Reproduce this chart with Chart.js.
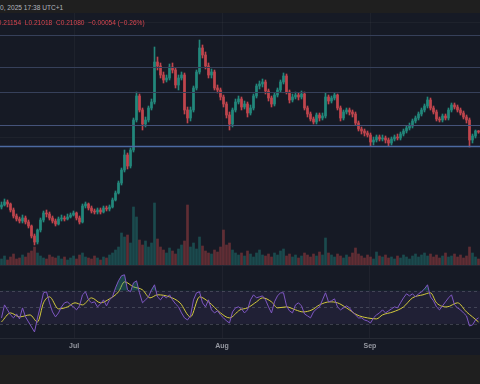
<!DOCTYPE html>
<html>
<head>
<meta charset="utf-8">
<script src="https://cdn.jsdelivr.net/npm/chart.js@4.4.0/dist/chart.umd.min.js"></script>
<style>
  html, body { margin: 0; padding: 0; background: #1f1f1f; }
  body { width: 480px; height: 384px; position: relative; overflow: hidden; font-family: "Liberation Sans", Arial, sans-serif; }
  #pane { position: absolute; left: 0; top: 13px; width: 480px; height: 342px; background: #161a25; }
  canvas { position: absolute; left: 0; }
  #price { top: 13px; }
  #rsi { top: 266px; }
  #sep { position: absolute; left: 0; top: 265px; width: 480px; height: 1px; background: #232733; }
  .txt { position: absolute; white-space: pre; font-size: 6.6px; }
  #when { top: 4px; left: 0; color: #b2b5be; }
  #ohlc { top: 19px; left: -7px; color: #d9464f; }
</style>
</head>
<body>
<div id="pane"></div>
<canvas id="price" width="480" height="252"></canvas>
<div id="sep"></div>
<canvas id="rsi" width="480" height="89"></canvas>
<div id="when" class="txt">0, 2025 17:38 UTC+1</div>
<div id="ohlc" class="txt">H0.21154  L0.21018  C0.21080  −0.00054 (−0.26%)</div>
<script>
// candles (about 1.5 days each)
const open = [
  .1733,.1743,.1758,.1748,.1718,.1688,.1673,.1663,.1678,.1658,
  .1638,.1588,.1558,.1618,.1668,.1703,.1698,.1678,.1663,.1648,
  .1673,.1678,.1673,.1683,.1693,.1703,.1678,.1658,.1738,.1748,
  .1728,.1713,.1708,.1718,.1708,.1728,.1723,.1733,.1768,.1803,
  .1853,.1918,.1993,.1938,.2018,.2168,.2288,.2218,.2148,.2168,
  .2228,.2258,.2458,.2438,.2393,.2368,.2378,.2433,.2418,.2343,
  .2378,.2393,.2218,.2178,.2218,.2328,.2408,.2528,.2493,.2438,
  .2393,.2408,.2328,.2318,.2283,.2248,.2193,.2148,.2218,.2258,
  .2273,.2233,.2248,.2203,.2228,.2288,.2338,.2348,.2358,.2313,
  .2278,.2248,.2293,.2318,.2358,.2388,.2308,.2268,.2283,.2293,
  .2283,.2298,.2228,.2198,.2173,.2158,.2193,.2178,.2188,.2283,
  .2263,.2278,.2293,.2228,.2178,.2208,.2218,.2208,.2198,.2153,
  .2123,.2113,.2103,.2093,.2058,.2068,.2083,.2073,.2078,.2068,
  .2053,.2073,.2083,.2078,.2098,.2113,.2128,.2138,.2163,.2178,
  .2198,.2218,.2238,.2268,.2228,.2208,.2173,.2168,.2188,.2178,
  .2218,.2243,.2233,.2218,.2203,.2183,.2168,.2068,.2088,.21134
];
const high = [
  .1758,.1773,.1768,.1753,.1728,.1698,.1683,.1693,.1688,.1668,
  .1643,.1598,.1623,.1678,.1713,.1718,.1708,.1688,.1673,.1683,
  .1693,.1688,.1698,.1703,.1713,.1708,.1688,.1748,.1758,.1753,
  .1738,.1723,.1728,.1728,.1738,.1738,.1743,.1778,.1813,.1863,
  .1928,.2018,.2003,.2028,.2178,.2308,.2298,.2228,.2183,.2238,
  .2273,.2533,.2483,.2453,.2408,.2393,.2448,.2453,.2428,.2393,
  .2408,.2403,.2233,.2233,.2338,.2418,.2568,.2543,.2508,.2453,
  .2423,.2418,.2343,.2328,.2293,.2258,.2208,.2228,.2273,.2288,
  .2283,.2263,.2258,.2243,.2298,.2348,.2363,.2373,.2368,.2323,
  .2288,.2303,.2328,.2368,.2403,.2398,.2318,.2298,.2308,.2303,
  .2313,.2308,.2238,.2208,.2183,.2203,.2203,.2203,.2303,.2293,
  .2288,.2303,.2298,.2238,.2218,.2228,.2228,.2218,.2208,.2163,
  .2133,.2123,.2113,.2103,.2083,.2093,.2093,.2093,.2088,.2078,
  .2083,.2093,.2098,.2108,.2123,.2138,.2153,.2173,.2188,.2208,
  .2228,.2248,.2283,.2278,.2238,.2218,.2183,.2198,.2198,.2228,
  .2253,.2253,.2243,.2228,.2213,.2193,.2178,.2098,.2118,.21154
];
const low = [
  .1723,.1738,.1733,.1708,.1678,.1663,.1653,.1653,.1648,.1628,
  .1578,.1543,.1548,.1608,.1658,.1683,.1668,.1653,.1638,.1643,
  .1663,.1663,.1668,.1678,.1688,.1668,.1648,.1653,.1728,.1718,
  .1703,.1698,.1698,.1698,.1703,.1713,.1713,.1728,.1763,.1798,
  .1843,.1908,.1923,.1928,.2008,.2158,.2208,.2118,.2133,.2158,
  .2218,.2248,.2418,.2378,.2353,.2358,.2368,.2403,.2328,.2318,
  .2368,.2198,.2153,.2163,.2208,.2318,.2398,.2478,.2423,.2378,
  .2378,.2318,.2303,.2268,.2233,.2178,.2118,.2133,.2208,.2248,
  .2218,.2223,.2183,.2193,.2218,.2278,.2323,.2333,.2298,.2263,
  .2233,.2238,.2283,.2308,.2348,.2298,.2253,.2258,.2273,.2268,
  .2273,.2218,.2183,.2163,.2148,.2148,.2163,.2168,.2178,.2248,
  .2253,.2268,.2218,.2163,.2168,.2198,.2193,.2183,.2143,.2113,
  .2098,.2088,.2083,.2038,.2043,.2058,.2063,.2063,.2053,.2038,
  .2043,.2063,.2068,.2068,.2088,.2103,.2118,.2128,.2153,.2168,
  .2188,.2208,.2228,.2218,.2198,.2163,.2158,.2158,.2168,.2168,
  .2208,.2223,.2208,.2193,.2173,.2153,.2033,.2053,.2078,.21018
];
const close = [
  .1743,.1758,.1748,.1718,.1688,.1673,.1663,.1678,.1658,.1638,
  .1588,.1558,.1618,.1668,.1703,.1698,.1678,.1663,.1648,.1673,
  .1678,.1673,.1683,.1693,.1703,.1678,.1658,.1738,.1748,.1728,
  .1713,.1708,.1718,.1708,.1728,.1723,.1733,.1768,.1803,.1853,
  .1918,.1993,.1938,.2018,.2168,.2288,.2218,.2148,.2168,.2228,
  .2258,.2458,.2438,.2393,.2368,.2378,.2433,.2418,.2343,.2378,
  .2393,.2218,.2178,.2218,.2328,.2408,.2528,.2493,.2438,.2393,
  .2408,.2328,.2318,.2283,.2248,.2193,.2148,.2218,.2258,.2273,
  .2233,.2248,.2203,.2228,.2288,.2338,.2348,.2358,.2313,.2278,
  .2248,.2293,.2318,.2358,.2388,.2308,.2268,.2283,.2293,.2283,
  .2298,.2228,.2198,.2173,.2158,.2193,.2178,.2188,.2283,.2263,
  .2278,.2293,.2228,.2178,.2208,.2218,.2208,.2198,.2153,.2123,
  .2113,.2103,.2093,.2058,.2068,.2083,.2073,.2078,.2068,.2053,
  .2073,.2083,.2078,.2098,.2113,.2128,.2138,.2163,.2178,.2198,
  .2218,.2238,.2268,.2228,.2208,.2173,.2168,.2188,.2178,.2218,
  .2243,.2233,.2218,.2203,.2183,.2168,.2068,.2088,.2113,.2108
];
// volume, in 100k
const volume = [
  6,9,5,8,11,6,7,10,8,12,
  14,18,12,9,7,6,10,8,7,9,
  6,8,5,7,9,6,10,12,8,7,
  6,9,7,5,8,7,10,12,15,18,
  32,28,30,22,58,48,25,20,24,18,
  22,62,26,18,15,12,17,14,11,16,
  20,24,60,18,22,16,28,19,14,12,
  11,15,13,18,35,20,22,15,12,10,
  12,9,14,11,8,12,15,10,9,11,
  8,12,10,14,16,9,11,8,10,7,
  9,12,10,8,11,9,13,10,27,12,
  10,8,11,9,7,10,8,12,17,11,
  9,7,10,8,6,13,9,8,10,7,
  8,6,9,7,10,8,6,9,11,8,
  10,12,9,11,8,10,7,9,12,8,
  9,11,8,10,7,9,18,12,8,6
];
const rsi = [
  37.3,53.0,47.0,40.9,37.3,42.1,36.1,49.4,38.5,32.4,
  26.4,20.3,37.3,51.8,67.6,68.8,55.5,44.5,38.5,43.3,
  50.6,55.5,56.7,53.0,50.6,47.0,51.8,65.2,68.8,59.1,
  55.5,56.7,50.6,54.2,59.1,51.8,59.1,62.7,73.6,82.1,
  88.2,89.4,71.2,68.8,79.7,82.1,67.6,55.5,59.1,62.7,
  71.2,77.3,62.7,59.1,63.9,61.5,65.2,59.1,54.2,50.6,
  43.3,37.3,34.8,39.7,59.1,67.6,68.8,55.5,50.6,59.1,
  47.0,43.3,45.8,40.9,37.3,33.6,31.2,44.5,49.4,50.6,
  48.2,43.3,47.0,59.1,65.2,61.5,62.7,63.9,59.1,50.6,
  43.3,56.7,63.9,67.6,67.6,51.8,45.8,43.3,53.0,55.5,
  51.8,42.1,39.7,37.3,44.5,48.2,50.6,59.1,67.6,56.7,
  57.9,60.3,50.6,47.0,49.4,51.8,49.4,44.5,40.9,37.3,
  37.3,34.8,33.6,31.2,37.3,40.9,43.3,47.0,43.3,45.8,
  48.2,50.6,49.4,55.5,61.5,66.4,63.9,66.4,62.7,66.4,
  68.8,72.4,77.3,62.7,57.9,50.6,47.0,51.8,56.7,61.5,
  65.2,53.0,49.4,47.0,43.3,39.7,27.6,28.8,34.8,37.3
];
// RSI-based moving average, read at a coarser step (candle index -> value)
const maIndex = [0,3,6,9.5,12,14,16,19,22,24.5,27,30,33,36,39,41,44,47,49.5,52,
  56,59.5,63,66,69,73,76,79.5,82,85,87,90,92,95,98,100.5,103.5,106,109.5,112,
  115,118.5,122,125,127,130.5,134,137,140.5,143,145,148.5,152,155,157,159];
const maValue = [32.4,43.3,38.5,40.9,32.4,55.5,62.7,48.2,50.6,55.5,53.0,61.5,55.5,60.3,68.8,80.9,74.8,71.2,61.5,65.2,
  62.7,55.5,38.5,62.7,56.7,43.3,37.3,47.0,49.4,56.7,61.5,56.7,49.4,50.6,47.0,44.5,47.0,53.0,56.7,55.5,
  49.4,40.9,37.3,36.1,40.9,44.5,50.6,61.5,65.2,67.6,55.5,50.6,55.5,44.5,38.5,32.4];

const levels = [0.2593, 0.2433, 0.2308, 0.2143, 0.2038];
const gridPrices = [0.2658, 0.2083];
const rsiLevels = [70, 50, 30];
const monthIdx = [24.2, 73.5, 122.8];
const monthLabels = ['Jul', 'Aug', 'Sep'];

const UP = '#23877b', DOWN = '#bf454d';
const candleColor = close.map((c, i) => c >= open[i] ? UP : DOWN);
const volColor = close.map((c, i) => c >= open[i] ? 'rgba(38,166,154,0.35)' : 'rgba(239,83,80,0.35)');
const levelColors = ['#36405a', '#36405a', '#36405a', '#45537a', '#4c6aa2'];

// grid + horizontal drawings on the price pane
const priceLines = {
  id: 'priceLines',
  beforeDatasetsDraw(chart) {
    const { ctx, chartArea: a, scales: { x, y } } = chart;
    ctx.save();
    ctx.strokeStyle = 'rgba(255,255,255,0.035)';
    ctx.lineWidth = 1;
    monthIdx.forEach(m => {
      const px = Math.round(x.getPixelForValue(m)) + 0.5;
      ctx.beginPath(); ctx.moveTo(px, a.top); ctx.lineTo(px, a.bottom); ctx.stroke();
    });
    gridPrices.forEach(p => {
      const py = Math.round(y.getPixelForValue(p)) + 0.5;
      ctx.beginPath(); ctx.moveTo(a.left, py); ctx.lineTo(a.right, py); ctx.stroke();
    });
    ctx.restore();
  },
  afterDatasetsDraw(chart) {
    const { ctx, chartArea: a, scales: { y } } = chart;
    ctx.save();
    levels.forEach((p, i) => {
      const py = Math.round(y.getPixelForValue(p)) + 0.5;
      ctx.strokeStyle = levelColors[i];
      ctx.lineWidth = i === 4 ? 1.5 : 1;
      ctx.beginPath(); ctx.moveTo(a.left, py); ctx.lineTo(a.right, py); ctx.stroke();
    });
    ctx.restore();
  }
};

const rsiBand = {
  id: 'rsiBand',
  beforeDatasetsDraw(chart) {
    const { ctx, chartArea: a, scales: { y } } = chart;
    const top = y.getPixelForValue(rsiLevels[0]);
    const bot = y.getPixelForValue(rsiLevels[2]);
    ctx.save();
    ctx.fillStyle = 'rgba(126,87,194,0.1)';
    ctx.fillRect(a.left, top, a.width, bot - top);
    ctx.strokeStyle = 'rgba(120,123,134,0.4)';
    ctx.lineWidth = 1;
    ctx.setLineDash([3, 3]);
    rsiLevels.forEach(v => {
      const py = Math.round(y.getPixelForValue(v)) + 0.5;
      ctx.beginPath(); ctx.moveTo(a.left, py); ctx.lineTo(a.right, py); ctx.stroke();
    });
    ctx.restore();
  }
};

new Chart(document.getElementById('price'), {
  type: 'bar',
  data: {
    labels: close.map((_, i) => i),
    datasets: [
      { label: 'body', data: open.map((o, i) => [o, close[i]]), backgroundColor: candleColor,
        barThickness: 2, minBarLength: 1, grouped: false, order: 0 },
      { label: 'wick', data: low.map((l, i) => [l, high[i]]), backgroundColor: candleColor,
        barThickness: 1, grouped: false, order: 1 },
      { label: 'volume', data: volume, yAxisID: 'v', backgroundColor: volColor,
        barThickness: 2, grouped: false, order: 2 }
    ]
  },
  options: {
    responsive: false,
    animation: false,
    events: [],
    layout: { padding: 0 },
    plugins: { legend: { display: false }, tooltip: { enabled: false } },
    scales: {
      x: { display: false },
      y: { display: false, min: 0.1443, max: 0.2703 },
      v: { display: false, min: 0, max: 252 }
    }
  },
  plugins: [priceLines]
});

new Chart(document.getElementById('rsi'), {
  type: 'line',
  data: {
    datasets: [
      { label: 'RSI', data: rsi.map((v, i) => ({ x: i, y: v })), borderColor: '#7e57c2', borderWidth: 1,
        pointRadius: 0, fill: { target: { value: 70 }, above: 'rgba(38,166,154,0.3)', below: 'rgba(0,0,0,0)' } },
      { label: 'MA', data: maIndex.map((v, k) => ({ x: v, y: maValue[k] })), borderColor: '#d4ca3c',
        borderWidth: 1, pointRadius: 0, cubicInterpolationMode: 'monotone' }
    ]
  },
  options: {
    responsive: false,
    animation: false,
    events: [],
    layout: { padding: 0 },
    plugins: { legend: { display: false }, tooltip: { enabled: false } },
    scales: {
      x: {
        type: 'linear', min: -0.5, max: 159.5,
        afterBuildTicks: axis => { axis.ticks = monthIdx.map(v => ({ value: v })); },
        afterFit: axis => { axis.height = 17; },
        ticks: { callback: (v, i) => monthLabels[i], color: '#9598a1', padding: 4, maxRotation: 0, autoSkip: false,
                 font: { size: 7, weight: 'bold', family: 'Liberation Sans' } },
        grid: { color: 'rgba(255,255,255,0.04)', drawTicks: false },
        border: { color: 'rgba(255,255,255,0.07)' }
      },
      y: { display: false, min: 13, max: 100 }
    }
  },
  plugins: [rsiBand]
});
</script>
</body>
</html>
